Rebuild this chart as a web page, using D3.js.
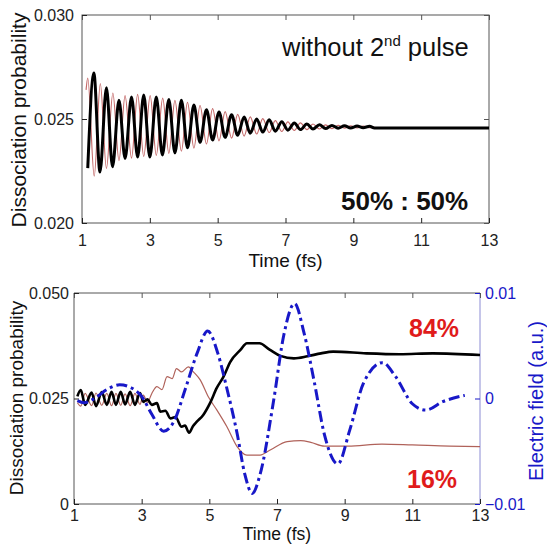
<!DOCTYPE html>
<html>
<head>
<meta charset="utf-8">
<script src="https://cdn.jsdelivr.net/npm/d3@7"></script>
<style>
  body { margin: 0; background: #fff; }
  svg { display: block; font-family: Arial, "Liberation Sans", Helvetica, sans-serif; }
</style>
</head>
<body>
<svg id="chart" width="547" height="546"></svg>
<script>
// ---- top panel: without 2nd pulse ----
const xTicks = [1, 3, 5, 7, 9, 11, 13];
const topYTicks = [0.020, 0.025, 0.030];
const topYLabels = ["0.020", "0.025", "0.030"];

// black trace (peaks / troughs)
const topBlackT = [1.17, 1.35, 1.53, 1.72, 1.90, 2.09, 2.27, 2.46, 2.64, 2.82, 3.00, 3.19, 3.37, 3.56, 3.74, 3.93,
  4.11, 4.30, 4.48, 4.67, 4.85, 5.04, 5.22, 5.41, 5.59, 5.78, 5.96, 6.15, 6.33, 6.52, 6.70, 6.89, 7.07, 7.26,
  7.44, 7.63, 7.81, 8.00, 8.18, 8.37, 8.55, 8.74, 8.92, 9.11, 9.29, 9.48, 9.62, 13.0];
const topBlackP = [0.02264, 0.02721, 0.02245, 0.02650, 0.02270, 0.02590, 0.02310, 0.02606, 0.02317, 0.02615,
  0.02317, 0.02606, 0.02327, 0.02594, 0.02337, 0.02590, 0.02362, 0.02567, 0.02388, 0.02545, 0.02399, 0.02534,
  0.02412, 0.02521, 0.02422, 0.02510, 0.02432, 0.02500, 0.02437, 0.02496, 0.02441, 0.02487, 0.02446, 0.02481,
  0.02449, 0.02476, 0.02452, 0.02472, 0.02454, 0.02469, 0.02456, 0.02467, 0.02457, 0.02466, 0.02458, 0.02465,
  0.02457, 0.02457];

// red trace
const topRedT = [1.12, 1.17, 1.36, 1.54, 1.72, 1.91, 2.09, 2.27, 2.46, 2.64, 2.82, 3.01, 3.19, 3.38, 3.56, 3.74,
  3.93, 4.11, 4.30, 4.48, 4.67, 4.85, 5.04, 5.22, 5.41, 5.59, 5.78, 5.96, 6.15, 6.33, 6.52, 6.70, 6.89, 7.07,
  7.26, 7.44, 7.63, 7.81, 8.00, 8.18, 8.37, 8.55, 8.74, 8.92, 9.11, 9.29, 9.48, 9.62];
const topRedP = [0.02640, 0.02697, 0.02225, 0.02670, 0.02262, 0.02625, 0.02300, 0.02612, 0.02312, 0.02618,
  0.02320, 0.02612, 0.02325, 0.02600, 0.02335, 0.02590, 0.02345, 0.02580, 0.02360, 0.02565, 0.02380, 0.02550,
  0.02395, 0.02535, 0.02408, 0.02522, 0.02418, 0.02510, 0.02428, 0.02502, 0.02435, 0.02492, 0.02440, 0.02486,
  0.02445, 0.02481, 0.02449, 0.02476, 0.02452, 0.02472, 0.02454, 0.02469, 0.02456, 0.02467, 0.02457, 0.02466,
  0.02458, 0.02462];

// ---- bottom panel: with 2nd pulse ----
const botYTicks = [0, 0.025, 0.050];
const botYLabels = ["0", "0.025", "0.050"];
const fieldTicks = [-0.01, 0, 0.01];
const fieldLabels = ["\u22120.01", "0", "0.01"];

const botBlackT = [1.1, 1.2, 1.33, 1.52, 1.65, 1.82, 1.97, 2.11, 2.24, 2.38, 2.51, 2.66, 2.8, 2.95, 3.05, 3.17,
  3.3, 3.45, 3.55, 3.7, 3.85, 4.0, 4.18, 4.28, 4.4, 4.52, 4.63, 4.82, 5.02, 5.22, 5.42, 5.62, 5.92, 6.11, 6.48,
  6.78, 7.1, 7.5, 7.9, 8.3, 8.66, 9.64, 10.63, 11.6, 13.0];
const botBlackP = [0.0255, 0.0270, 0.0235, 0.0264, 0.0232, 0.0265, 0.0235, 0.0266, 0.0235, 0.0266, 0.0236,
  0.0266, 0.0235, 0.0263, 0.0242, 0.0248, 0.0235, 0.0239, 0.0219, 0.0221, 0.0203, 0.0206, 0.0183, 0.0186,
  0.0169, 0.0185, 0.0195, 0.0211, 0.0239, 0.0275, 0.0302, 0.0337, 0.0365, 0.0381, 0.0381, 0.0366, 0.0351,
  0.0345, 0.0350, 0.0357, 0.0361, 0.0357, 0.0355, 0.0357, 0.0353];

const botRedT = [1.1, 1.2, 1.33, 1.52, 1.65, 1.82, 1.97, 2.11, 2.24, 2.38, 2.51, 2.66, 2.8, 2.95, 3.05, 3.17,
  3.3, 3.45, 3.6, 3.75, 3.9, 4.03, 4.18, 4.38, 4.53, 4.73, 4.97, 5.22, 5.52, 5.82, 6.11, 6.5, 6.8, 7.3, 7.7,
  8.0, 8.4, 9.1, 10.1, 11.0, 12.1, 13.0];
const botRedP = [0.0240, 0.0232, 0.0262, 0.0233, 0.0263, 0.0234, 0.0262, 0.0233, 0.0262, 0.0234, 0.0261,
  0.0233, 0.0262, 0.0236, 0.0258, 0.0241, 0.0262, 0.0278, 0.0271, 0.0302, 0.0297, 0.0321, 0.0313, 0.0325,
  0.0313, 0.0294, 0.0254, 0.0223, 0.0183, 0.0136, 0.0116, 0.0116, 0.0128, 0.0148, 0.0150, 0.0146, 0.0137,
  0.0137, 0.0142, 0.0140, 0.0137, 0.0136];

// electric field (right axis)
const fieldT = [1.1, 1.3, 1.6, 2.0, 2.35, 2.7, 3.0, 3.3, 3.65, 3.95, 4.3, 4.64, 4.95, 5.25, 5.5, 5.82, 6.05,
  6.27, 6.5, 6.9, 7.2, 7.52, 7.8, 8.1, 8.4, 8.8, 9.15, 9.55, 10.12, 10.5, 11.0, 11.4, 11.9, 12.55];
const fieldE = [-0.0002, -0.0004, 0.0000, 0.0009, 0.0013, 0.0010, 0.0002, -0.0015, -0.0031, -0.0022, 0.0010,
  0.0043, 0.0064, 0.0043, 0.0012, -0.0033, -0.0072, -0.0090, -0.0072, -0.0002, 0.0060, 0.0090, 0.0062, 0.0016,
  -0.0034, -0.0062, -0.0030, 0.0014, 0.0034, 0.0021, -0.0005, -0.0011, -0.0003, 0.0003];

const svg = d3.select("#chart");
const frameColor = "#555";
const blue = "#1818c8";

function styleAxis(g, color) {
  g.select(".domain").remove();
  g.selectAll(".tick line").attr("stroke", color);
  g.selectAll(".tick text").attr("fill", color).style("font-size", "16px")
    .style("font-family", "Arial, 'Liberation Sans', sans-serif");
}

function zip(ts, vs) { return ts.map((t, i) => [t, vs[i]]); }

// ================= top panel =================
const tp = { left: 82, right: 489, top: 15, bottom: 223 };
const x1 = d3.scaleLinear().domain([1, 13]).range([tp.left, tp.right]);
const y1 = d3.scaleLinear().domain([0.020, 0.030]).range([tp.bottom, tp.top]);

const g1 = svg.append("g");
g1.append("rect").attr("x", tp.left).attr("y", tp.top)
  .attr("width", tp.right - tp.left).attr("height", tp.bottom - tp.top)
  .attr("fill", "none").attr("stroke", frameColor);

g1.append("g").attr("transform", `translate(0,${tp.bottom})`)
  .call(d3.axisBottom(x1).tickValues(xTicks).tickSizeInner(-5).tickSizeOuter(0).tickPadding(12))
  .call(g => styleAxis(g, "#222"));
g1.append("g").attr("transform", `translate(0,${tp.top})`)
  .call(d3.axisTop(x1).tickValues(xTicks).tickSizeInner(-5).tickSizeOuter(0).tickFormat(""))
  .call(g => styleAxis(g, frameColor));
g1.append("g").attr("transform", `translate(${tp.left},0)`)
  .call(d3.axisLeft(y1).tickValues(topYTicks).tickSizeInner(-5).tickSizeOuter(0).tickPadding(8)
    .tickFormat((d, i) => topYLabels[i]))
  .call(g => styleAxis(g, "#222"));
g1.append("g").attr("transform", `translate(${tp.right},0)`)
  .call(d3.axisRight(y1).tickValues(topYTicks).tickSizeInner(-5).tickSizeOuter(0).tickFormat(""))
  .call(g => styleAxis(g, frameColor));

const line1 = d3.line().x(d => x1(d[0])).y(d => y1(d[1])).curve(d3.curveMonotoneX);
g1.append("path").attr("d", line1(zip(topRedT, topRedP)))
  .attr("fill", "none").attr("stroke", "#c46a6a").attr("stroke-width", 1.2);
g1.append("path").attr("d", line1(zip(topBlackT, topBlackP)))
  .attr("fill", "none").attr("stroke", "#000").attr("stroke-width", 3).attr("stroke-linejoin", "round");

const note = g1.append("text").attr("x", 282).attr("y", 56)
  .style("font-size", "25.5px").attr("fill", "#111");
note.append("tspan").text("without 2");
note.append("tspan").text("nd").style("font-size", "15px").attr("dy", -10);
note.append("tspan").text(" pulse").attr("dy", 10);

g1.append("text").attr("x", 341).attr("y", 210).text("50% : 50%")
  .style("font-size", "26px").style("font-weight", "bold").attr("fill", "#111");

g1.append("text").attr("x", (tp.left + tp.right) / 2).attr("y", 267).attr("text-anchor", "middle")
  .text("Time (fs)").style("font-size", "19px").attr("fill", "#111");
g1.append("text").attr("transform", "translate(19,120) rotate(-90)").attr("text-anchor", "middle")
  .attr("dy", "0.35em").text("Dissociation probability").style("font-size", "21px").attr("fill", "#111");

// ================= bottom panel =================
const bp = { left: 74, right: 480, top: 293, bottom: 504 };
const x2 = d3.scaleLinear().domain([1, 13]).range([bp.left, bp.right]);
const y2 = d3.scaleLinear().domain([0, 0.050]).range([bp.bottom, bp.top]);
const yE = d3.scaleLinear().domain([-0.01, 0.01]).range([bp.bottom, bp.top]);

const g2 = svg.append("g");
g2.append("path")
  .attr("d", `M${bp.right},${bp.top}H${bp.left}V${bp.bottom}H${bp.right}`)
  .attr("fill", "none").attr("stroke", frameColor);
g2.append("line").attr("x1", bp.right).attr("x2", bp.right).attr("y1", bp.top).attr("y2", bp.bottom)
  .attr("stroke", "#8c8cd4");

g2.append("g").attr("transform", `translate(0,${bp.bottom})`)
  .call(d3.axisBottom(x2).tickValues(xTicks).tickSizeInner(-5).tickSizeOuter(0).tickPadding(6))
  .call(g => styleAxis(g, "#222"));
g2.append("g").attr("transform", `translate(0,${bp.top})`)
  .call(d3.axisTop(x2).tickValues(xTicks).tickSizeInner(-5).tickSizeOuter(0).tickFormat(""))
  .call(g => styleAxis(g, frameColor));
g2.append("g").attr("transform", `translate(${bp.left},0)`)
  .call(d3.axisLeft(y2).tickValues(botYTicks).tickSizeInner(-5).tickSizeOuter(0).tickPadding(5)
    .tickFormat((d, i) => botYLabels[i]))
  .call(g => styleAxis(g, "#222"));
g2.append("g").attr("transform", `translate(${bp.right},0)`)
  .call(d3.axisRight(yE).tickValues(fieldTicks).tickSizeInner(-5).tickSizeOuter(0).tickPadding(5)
    .tickFormat((d, i) => fieldLabels[i]))
  .call(g => styleAxis(g, blue));

const line2 = d3.line().x(d => x2(d[0])).y(d => y2(d[1])).curve(d3.curveMonotoneX);
const lineE = d3.line().x(d => x2(d[0])).y(d => yE(d[1])).curve(d3.curveMonotoneX);

g2.append("path").attr("d", line2(zip(botRedT, botRedP)))
  .attr("fill", "none").attr("stroke", "#b0625a").attr("stroke-width", 1.2);
g2.append("path").attr("d", line2(zip(botBlackT, botBlackP)))
  .attr("fill", "none").attr("stroke", "#000").attr("stroke-width", 2.6).attr("stroke-linejoin", "round");
g2.append("path").attr("d", lineE(zip(fieldT, fieldE)))
  .attr("fill", "none").attr("stroke", blue).attr("stroke-width", 3)
  .attr("stroke-dasharray", "11,4,3,4");

g2.append("text").attr("x", 409).attr("y", 337).text("84%")
  .style("font-size", "25px").style("font-weight", "bold").attr("fill", "#e01b1b");
g2.append("text").attr("x", 407).attr("y", 488).text("16%")
  .style("font-size", "25px").style("font-weight", "bold").attr("fill", "#e01b1b");

g2.append("text").attr("x", (bp.left + bp.right) / 2).attr("y", 540).attr("text-anchor", "middle")
  .text("Time (fs)").style("font-size", "17.5px").attr("fill", "#111");
g2.append("text").attr("transform", "translate(16,398) rotate(-90)").attr("text-anchor", "middle")
  .attr("dy", "0.35em").text("Dissociation probability").style("font-size", "19px").attr("fill", "#111");
g2.append("text").attr("transform", "translate(536,401) rotate(-90)").attr("text-anchor", "middle")
  .attr("dy", "0.35em").text("Electric field (a.u.)").style("font-size", "20px").attr("fill", blue);
</script>
</body>
</html>
